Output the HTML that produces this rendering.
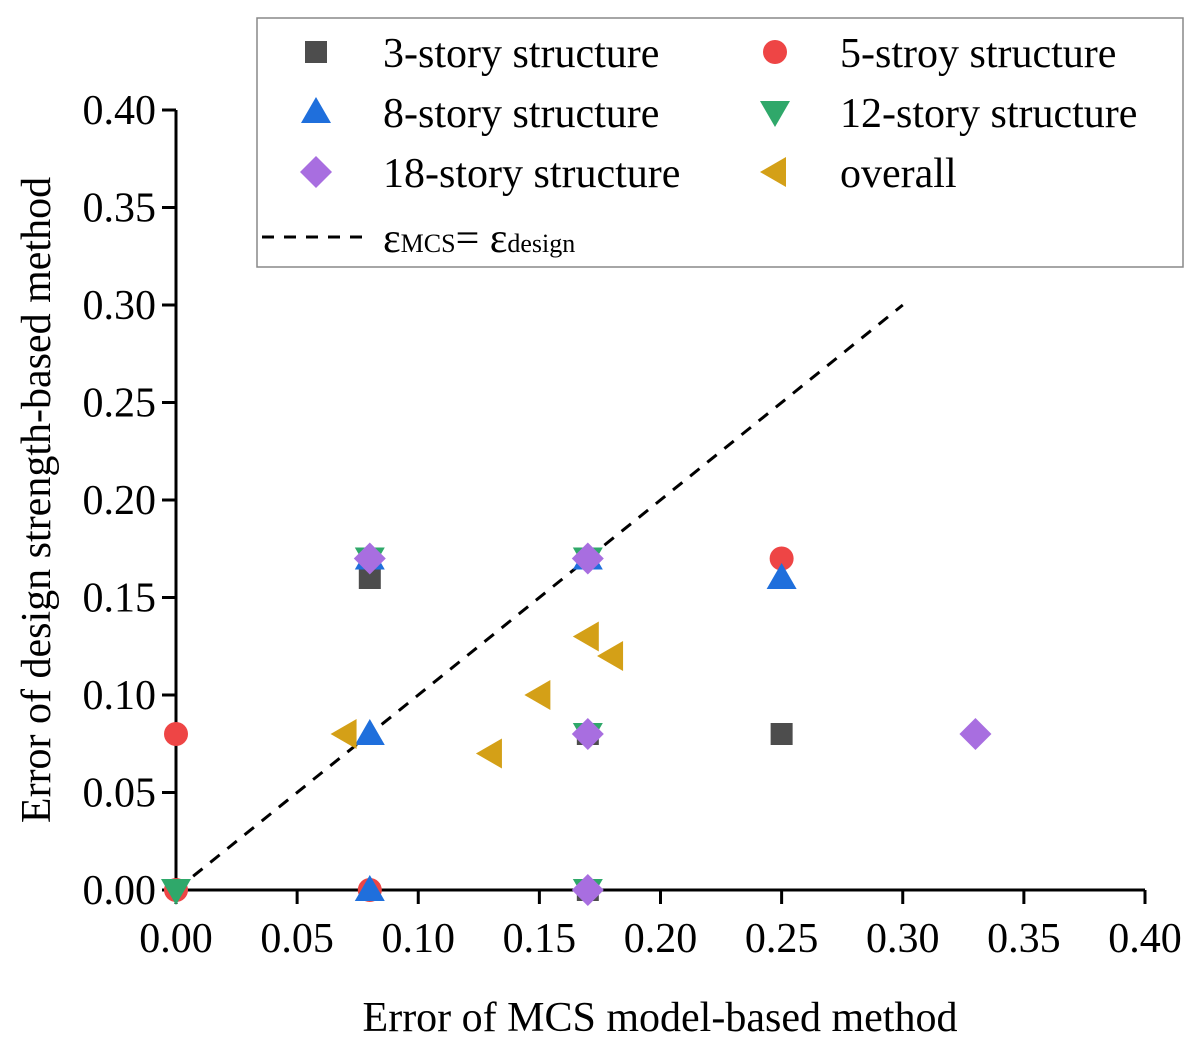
<!DOCTYPE html>
<html><head><meta charset="utf-8"><style>
body{margin:0;background:#fff}
svg{display:block;font-family:"Liberation Serif",serif}
</style></head><body>
<svg id="chart" width="1200" height="1051" viewBox="0 0 1200 1051" xmlns="http://www.w3.org/2000/svg">
<g id="axes"></g>
<g id="plot"></g>
<g id="legend"></g>
</svg>
<script>
const xTicks=[0,0.05,0.10,0.15,0.20,0.25,0.30,0.35,0.40];
const yTicks=[0,0.05,0.10,0.15,0.20,0.25,0.30,0.35,0.40];
const seriesNames=["3-story structure","5-stroy structure","8-story structure","12-story structure","18-story structure","overall"];
const s3=[[0.08,0.16],[0.17,0.17],[0.17,0.08],[0.25,0.08],[0.17,0.0]];
const s5=[[0,0.08],[0,0],[0.08,0],[0.25,0.17],[0.17,0.17]];
const s8=[[0.08,0.17],[0.17,0.17],[0.25,0.16],[0.08,0.08],[0.08,0]];
const s12=[[0.08,0.17],[0.17,0.17],[0.17,0.08],[0.17,0],[0,0]];
const s18=[[0.08,0.17],[0.17,0.17],[0.17,0.08],[0.17,0],[0.33,0.08]];
const sAll=[[0.07,0.08],[0.13,0.07],[0.15,0.10],[0.17,0.13],[0.18,0.12]];
const refLine=[[0,0],[0.30,0.30]];
const NS="http://www.w3.org/2000/svg";
const X0=176,X1=1145,Y0=890,Y1=110;
const xs=v=>X0+(X1-X0)*v/0.4, ys=v=>Y0-(Y0-Y1)*v/0.4;
function mk(tag,attrs,parent,text){const e=document.createElementNS(NS,tag);for(const k in attrs)e.setAttribute(k,attrs[k]);if(text!==undefined)e.textContent=text;parent.appendChild(e);return e;}
const axes=document.getElementById('axes'),plot=document.getElementById('plot'),leg=document.getElementById('legend');
let e;
e=mk('line',{x1:X0,y1:Y0,x2:X1,y2:Y0,stroke:'#000','stroke-width':3},axes);


e=mk('line',{x1:X0,y1:Y0,x2:X0,y2:Y1,stroke:'#000','stroke-width':3},axes);


xTicks.forEach(t=>{
 e=mk('line',{x1:xs(t),y1:Y0,x2:xs(t),y2:Y0+14,stroke:'#000','stroke-width':3},axes);
 
 
 e=mk('text',{x:xs(t),y:Y0+62,'text-anchor':'middle','font-size':42},axes,t.toFixed(2));
 
 
});
yTicks.forEach(t=>{
 e=mk('line',{x1:X0-14,y1:ys(t),x2:X0,y2:ys(t),stroke:'#000','stroke-width':3},axes);
 
 
 e=mk('text',{x:X0-20,y:ys(t)+14,'text-anchor':'end','font-size':42},axes,t.toFixed(2));
 
 
});
e=mk('text',{x:660,y:1031,'text-anchor':'middle','font-size':42},axes,'Error of MCS model-based method');


e=mk('text',{x:0,y:0,'text-anchor':'middle','font-size':42,transform:'translate(50,500) rotate(-90)'},axes,'Error of design strength-based method');


e=mk('line',{x1:xs(refLine[0][0]),y1:ys(refLine[0][1]),x2:xs(refLine[1][0]),y2:ys(refLine[1][1]),stroke:'#000','stroke-width':3,'stroke-dasharray':'12,10'},plot);


function marker(kind,cx,cy,parent){
 const r=13;
 if(kind==='sq')return mk('rect',{x:cx-11,y:cy-11,width:22,height:22,fill:'#4d4d4d'},parent);
 if(kind==='ci')return mk('circle',{cx:cx,cy:cy,r:12,fill:'#ee4545'},parent);
 if(kind==='up')return mk('polygon',{points:`${cx},${cy-15} ${cx+15},${cy+11} ${cx-15},${cy+11}`,fill:'#1f6fdc'},parent);
 if(kind==='dn')return mk('polygon',{points:`${cx},${cy+15} ${cx+15},${cy-11} ${cx-15},${cy-11}`,fill:'#2fa86a'},parent);
 if(kind==='di')return mk('polygon',{points:`${cx},${cy-16} ${cx+16},${cy} ${cx},${cy+16} ${cx-16},${cy}`,fill:'#a86ee0'},parent);
 return mk('polygon',{points:`${cx-15},${cy} ${cx+11},${cy-15} ${cx+11},${cy+15}`,fill:'#d4a017'},parent);
}
const sets=[[s3,'sq','point-3-story'],[s5,'ci','point-5-story'],[s8,'up','point-8-story'],[s12,'dn','point-12-story'],[s18,'di','point-18-story'],[sAll,'lt','point-overall']];
sets.forEach(([d,k,n])=>d.forEach(p=>{
 e=marker(k,xs(p[0]),ys(p[1]),plot);
 
 
}));
e=mk('rect',{x:257,y:18,width:926,height:249,fill:'#fff',stroke:'#888','stroke-width':1.5},leg);


const kinds=['sq','ci','up','dn','di','lt'];
seriesNames.forEach((nm,i)=>{
 const col=i%2,row=Math.floor(i/2);
 const mx=col?775:316,tx=col?840:383,cy=52+row*60;
 e=marker(kinds[i],mx,cy,leg);
 
 
 e=mk('text',{x:tx,y:cy+15,'font-size':42},leg,nm);
 
 
});
e=mk('line',{x1:262,y1:237,x2:368,y2:237,stroke:'#000','stroke-width':3,'stroke-dasharray':'12,10'},leg);


e=mk('text',{x:383,y:252,'font-size':42},leg);


e.innerHTML='ε<tspan font-size="26">MCS</tspan>= ε<tspan font-size="26">design</tspan>';
</script>
</body></html>
